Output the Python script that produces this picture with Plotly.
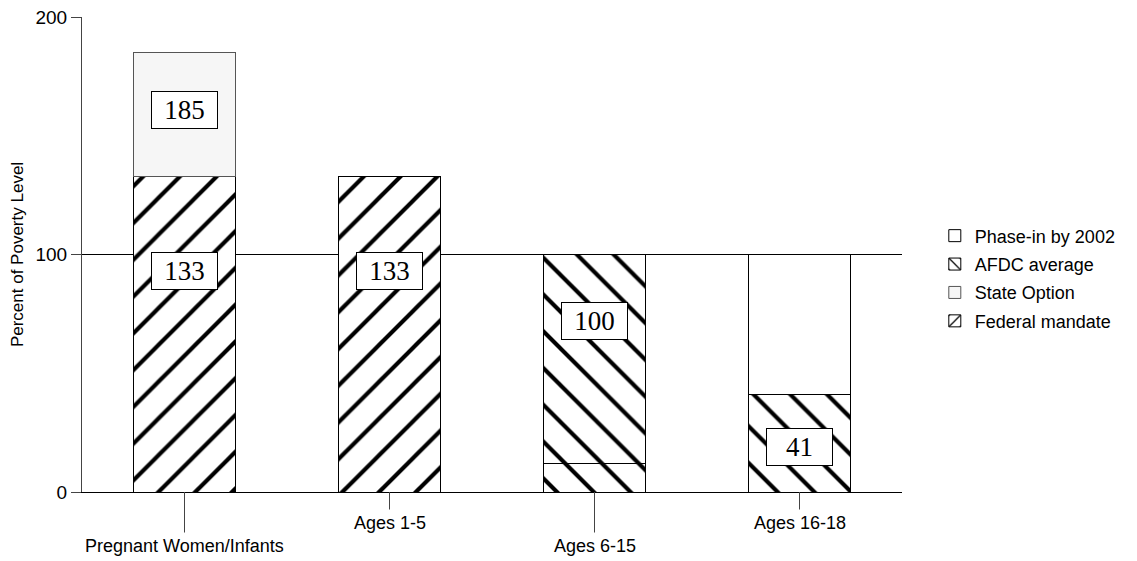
import plotly.graph_objects as go

categories = ["Pregnant Women/Infants", "Ages 1-5", "Ages 6-15", "Ages 16-18"]
federal_mandate = [133, 133, None, None]
state_option = [52, None, None, None]
afdc_average = [None, None, 12, 41]
phase_in_2002 = [None, None, 88, 59]

label_text = ["185", "133", "133", "100", "41"]
label_cat = ["Pregnant Women/Infants", "Pregnant Women/Infants", "Ages 1-5", "Ages 6-15", "Ages 16-18"]
label_y = [161, 93, 93, 72, 19]

y_ticks = [0, 100, 200]

line = dict(color="black", width=1)
pat = dict(size=26, solidity=0.16, fgcolor="black", bgcolor="white", fgopacity=1)
fig = go.Figure()
fig.add_bar(name="Federal mandate", x=categories, y=federal_mandate, width=0.5,
            marker=dict(color="white", line=line, pattern=dict(shape="/", **pat)),
            legendgroup="f", legendrank=4)
fig.add_bar(name="State Option", x=categories, y=state_option, width=0.5,
            marker=dict(color="#f6f6f6", line=dict(color="#555555", width=1)),
            legendgroup="s", legendrank=3)
fig.add_bar(name="AFDC average", x=categories, y=afdc_average, width=0.5,
            marker=dict(color="white", line=line, pattern=dict(shape="\\", **pat)),
            legendgroup="a", legendrank=2)
fig.add_bar(name="Phase-in by 2002", x=categories, y=phase_in_2002, width=0.5,
            marker=dict(color="white", line=line, pattern=dict(shape=["", "", "\\", ""], **pat)),
            legendgroup="p", legendrank=1)

for t, c, yv in zip(label_text, label_cat, label_y):
    fig.add_annotation(x=c, y=yv, text=t, showarrow=False,
                       font=dict(family="Liberation Serif", size=27, color="black"),
                       bgcolor="white", bordercolor="black", borderwidth=1,
                       width=63, height=34)

# staggered category labels
offsets = [54, 31, 54, 31]
for c, off in zip(categories, offsets):
    fig.add_annotation(x=c, y=0, text=c, showarrow=True, arrowhead=0, arrowwidth=1,
                       arrowcolor="#444444", ax=0, ay=off, standoff=0,
                       font=dict(family="Liberation Sans", size=18, color="black"),
                       borderpad=3)

fig.update_layout(
    barmode="stack",
    width=1137, height=561,
    margin=dict(l=74, r=243, t=9, b=77, autoexpand=False),
    plot_bgcolor="white", paper_bgcolor="white",
    font=dict(family="Liberation Sans", size=18, color="black"),
    showlegend=True,
    legend=dict(x=1.04, y=0.578, xanchor="left", yanchor="top", traceorder="grouped",
                font=dict(size=18, family="Liberation Sans"), tracegroupgap=2,
                bgcolor="rgba(0,0,0,0)"),
    xaxis=dict(range=[-0.5, 3.5], showticklabels=False, ticks="", showgrid=False,
               showline=True, linecolor="black", linewidth=1, zeroline=False,
               automargin=False),
    yaxis=dict(range=[0, 200], tickvals=y_ticks, ticks="outside", ticklen=10,
               tickcolor="#444444", showgrid=True, gridcolor="black", gridwidth=1,
               showline=True, linecolor="#444444", linewidth=1, zeroline=False,
               ticklabeloverflow="allow", automargin=False,
               title=dict(text="Percent of Poverty Level", font=dict(size=17), standoff=14),
               tickfont=dict(size=19)),
)

fig.write_html("out.html")
